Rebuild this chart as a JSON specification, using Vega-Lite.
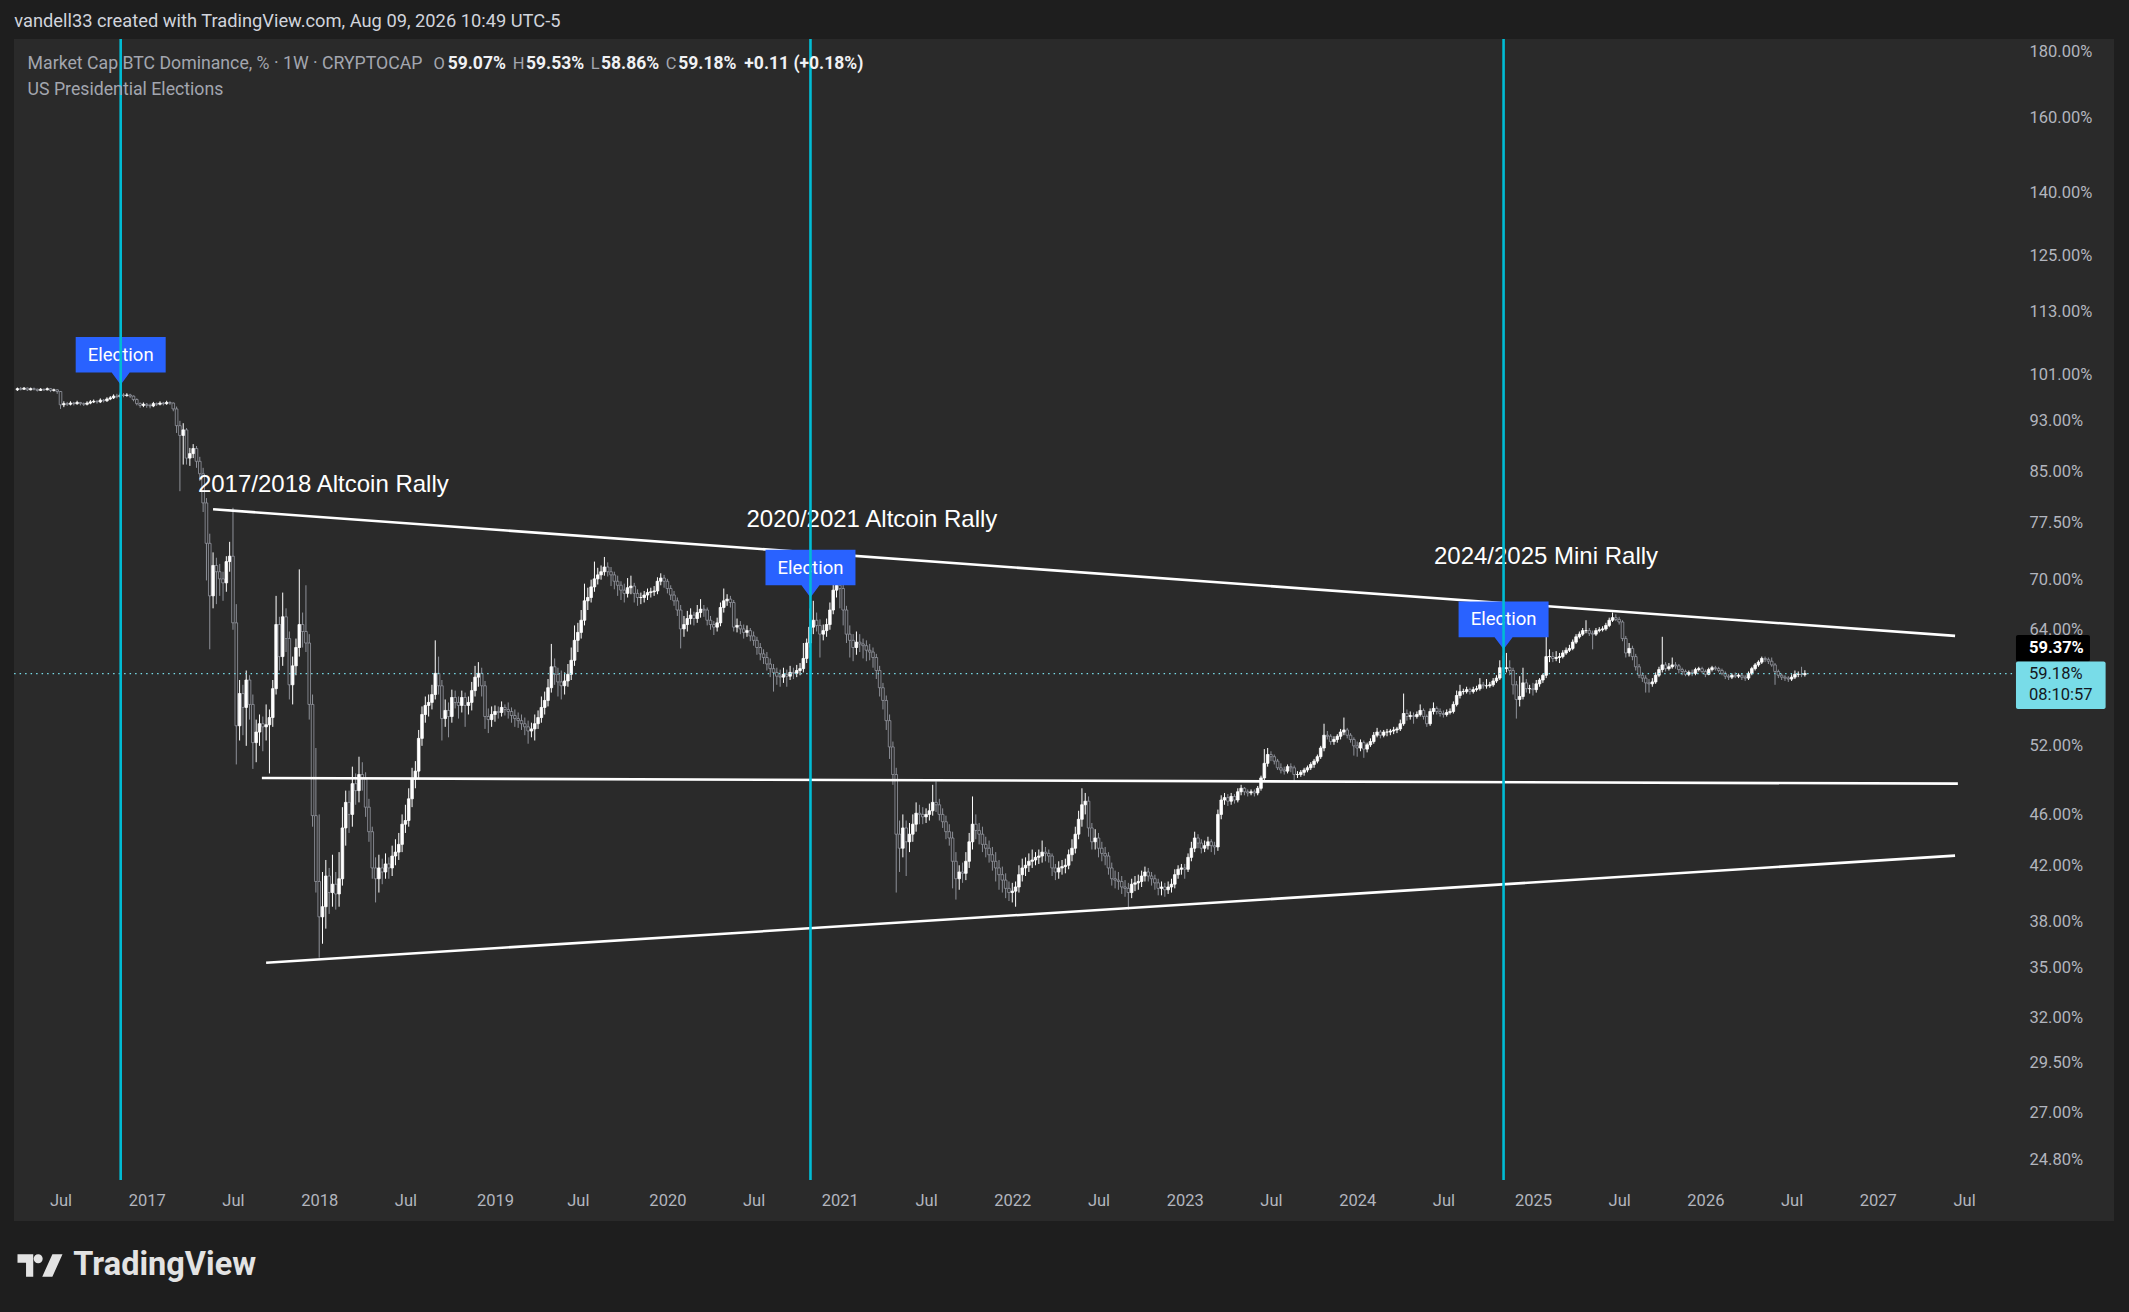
{
  "$schema": "https://vega.github.io/schema/vega-lite/v6.json",
  "width": 2100,
  "height": 1182,
  "autosize": "none",
  "padding": {"left": 14, "top": 39, "right": 15, "bottom": 91},
  "background": "#1e1e1e",
  "config": {
    "view": {"fill": "#2a2a2a", "stroke": null},
    "axis": {"grid": false, "domain": false, "ticks": false, "tickSize": 0, "labelFont": "Roboto", "labelFontSize": 16.5, "labelColor": "#b2b5be"}
  },
  "datasets": {
    "candles": [
      {"d":"2016-04-04","o":98.3,"h":98.7,"l":98.1,"c":98.5},
      {"d":"2016-04-11","o":98.5,"h":98.8,"l":98.2,"c":98.4},
      {"d":"2016-04-18","o":98.4,"h":98.8,"l":98.3,"c":98.6},
      {"d":"2016-04-25","o":98.6,"h":98.7,"l":98.1,"c":98.3},
      {"d":"2016-05-02","o":98.3,"h":98.7,"l":98.2,"c":98.5},
      {"d":"2016-05-09","o":98.5,"h":98.7,"l":98.2,"c":98.4},
      {"d":"2016-05-16","o":98.4,"h":98.5,"l":98.0,"c":98.2},
      {"d":"2016-05-23","o":98.2,"h":98.6,"l":98.1,"c":98.4},
      {"d":"2016-05-30","o":98.4,"h":98.5,"l":98.1,"c":98.3},
      {"d":"2016-06-06","o":98.3,"h":98.7,"l":98.2,"c":98.5},
      {"d":"2016-06-13","o":98.5,"h":98.6,"l":97.9,"c":98.2},
      {"d":"2016-06-20","o":98.2,"h":98.5,"l":98.0,"c":98.3},
      {"d":"2016-06-27","o":98.3,"h":98.4,"l":97.6,"c":98.0},
      {"d":"2016-07-04","o":98.0,"h":98.1,"l":95.0,"c":95.7},
      {"d":"2016-07-11","o":95.7,"h":96.3,"l":95.3,"c":95.9},
      {"d":"2016-07-18","o":95.9,"h":96.2,"l":95.5,"c":95.8},
      {"d":"2016-07-25","o":95.8,"h":96.3,"l":95.6,"c":96.0},
      {"d":"2016-08-01","o":96.0,"h":96.2,"l":95.6,"c":95.9},
      {"d":"2016-08-08","o":95.9,"h":96.4,"l":95.7,"c":96.1},
      {"d":"2016-08-15","o":96.1,"h":96.2,"l":95.6,"c":95.9},
      {"d":"2016-08-22","o":95.9,"h":96.1,"l":95.5,"c":95.8},
      {"d":"2016-08-29","o":95.8,"h":96.3,"l":95.6,"c":96.0},
      {"d":"2016-09-05","o":96.0,"h":96.5,"l":95.8,"c":96.2},
      {"d":"2016-09-12","o":96.2,"h":96.6,"l":96.0,"c":96.3},
      {"d":"2016-09-19","o":96.3,"h":96.5,"l":95.9,"c":96.2},
      {"d":"2016-09-26","o":96.2,"h":96.8,"l":96.0,"c":96.5},
      {"d":"2016-10-03","o":96.5,"h":96.7,"l":96.1,"c":96.4},
      {"d":"2016-10-10","o":96.4,"h":97.0,"l":96.2,"c":96.7},
      {"d":"2016-10-17","o":96.7,"h":97.2,"l":96.5,"c":96.9},
      {"d":"2016-10-24","o":96.9,"h":97.5,"l":96.7,"c":97.2},
      {"d":"2016-10-31","o":97.2,"h":97.6,"l":96.8,"c":97.1},
      {"d":"2016-11-07","o":97.1,"h":97.8,"l":96.9,"c":97.4},
      {"d":"2016-11-14","o":97.4,"h":97.7,"l":97.0,"c":97.3},
      {"d":"2016-11-21","o":97.3,"h":97.7,"l":97.1,"c":97.4},
      {"d":"2016-11-28","o":97.4,"h":97.6,"l":96.9,"c":97.2},
      {"d":"2016-12-05","o":97.2,"h":97.3,"l":96.3,"c":96.6},
      {"d":"2016-12-12","o":96.6,"h":96.8,"l":95.6,"c":95.9},
      {"d":"2016-12-19","o":95.9,"h":96.1,"l":95.2,"c":95.6},
      {"d":"2016-12-26","o":95.6,"h":96.1,"l":95.3,"c":95.8},
      {"d":"2017-01-02","o":95.8,"h":96.0,"l":95.2,"c":95.6},
      {"d":"2017-01-09","o":95.6,"h":95.9,"l":95.1,"c":95.5},
      {"d":"2017-01-16","o":95.5,"h":96.2,"l":95.3,"c":95.9},
      {"d":"2017-01-23","o":95.9,"h":96.1,"l":95.5,"c":95.8},
      {"d":"2017-01-30","o":95.8,"h":96.3,"l":95.6,"c":96.0},
      {"d":"2017-02-06","o":96.0,"h":96.2,"l":95.6,"c":95.9},
      {"d":"2017-02-13","o":95.9,"h":96.4,"l":95.7,"c":96.1},
      {"d":"2017-02-20","o":96.1,"h":96.3,"l":95.7,"c":96.0},
      {"d":"2017-02-27","o":96.0,"h":96.1,"l":94.6,"c":95.0},
      {"d":"2017-03-06","o":95.0,"h":95.4,"l":91.0,"c":92.2},
      {"d":"2017-03-13","o":92.2,"h":93.0,"l":82.0,"c":90.6},
      {"d":"2017-03-20","o":90.6,"h":92.6,"l":86.0,"c":91.5},
      {"d":"2017-03-27","o":91.5,"h":91.8,"l":86.0,"c":87.0},
      {"d":"2017-04-03","o":87.0,"h":88.6,"l":85.8,"c":87.7},
      {"d":"2017-04-10","o":87.7,"h":89.2,"l":87.0,"c":88.5},
      {"d":"2017-04-17","o":88.5,"h":88.9,"l":85.5,"c":86.5},
      {"d":"2017-04-24","o":86.5,"h":87.2,"l":83.5,"c":84.6},
      {"d":"2017-05-01","o":84.6,"h":85.5,"l":79.0,"c":80.3},
      {"d":"2017-05-08","o":80.3,"h":81.0,"l":69.9,"c":74.7},
      {"d":"2017-05-15","o":74.7,"h":76.0,"l":61.8,"c":68.0},
      {"d":"2017-05-22","o":68.0,"h":73.5,"l":66.5,"c":71.8},
      {"d":"2017-05-29","o":71.8,"h":72.8,"l":67.0,"c":71.0},
      {"d":"2017-06-05","o":71.0,"h":72.0,"l":68.0,"c":70.1},
      {"d":"2017-06-12","o":70.1,"h":71.0,"l":67.4,"c":69.6},
      {"d":"2017-06-19","o":69.6,"h":73.0,"l":68.5,"c":72.3},
      {"d":"2017-06-26","o":72.3,"h":74.9,"l":71.0,"c":73.0},
      {"d":"2017-07-03","o":73.0,"h":79.6,"l":64.0,"c":64.8},
      {"d":"2017-07-10","o":64.8,"h":67.0,"l":50.3,"c":53.9},
      {"d":"2017-07-17","o":53.9,"h":58.5,"l":52.5,"c":57.1},
      {"d":"2017-07-24","o":57.1,"h":58.0,"l":53.0,"c":55.7},
      {"d":"2017-07-31","o":55.7,"h":59.5,"l":52.0,"c":58.5},
      {"d":"2017-08-07","o":58.5,"h":59.0,"l":54.5,"c":56.0},
      {"d":"2017-08-14","o":56.0,"h":57.0,"l":49.9,"c":52.3},
      {"d":"2017-08-21","o":52.3,"h":54.5,"l":50.5,"c":53.3},
      {"d":"2017-08-28","o":53.3,"h":55.0,"l":52.0,"c":54.1},
      {"d":"2017-09-04","o":54.1,"h":54.8,"l":51.5,"c":53.8},
      {"d":"2017-09-11","o":53.8,"h":56.0,"l":52.5,"c":54.0},
      {"d":"2017-09-18","o":54.0,"h":55.5,"l":49.5,"c":54.7},
      {"d":"2017-09-25","o":54.7,"h":58.5,"l":53.8,"c":57.6},
      {"d":"2017-10-02","o":57.6,"h":68.0,"l":57.0,"c":64.6},
      {"d":"2017-10-09","o":64.6,"h":65.5,"l":59.5,"c":61.0},
      {"d":"2017-10-16","o":61.0,"h":68.4,"l":60.0,"c":65.5},
      {"d":"2017-10-23","o":65.5,"h":66.5,"l":61.5,"c":63.0},
      {"d":"2017-10-30","o":63.0,"h":63.8,"l":56.5,"c":58.0},
      {"d":"2017-11-06","o":58.0,"h":61.0,"l":56.0,"c":60.0},
      {"d":"2017-11-13","o":60.0,"h":63.0,"l":59.0,"c":62.0},
      {"d":"2017-11-20","o":62.0,"h":71.3,"l":61.0,"c":64.6},
      {"d":"2017-11-27","o":64.6,"h":66.0,"l":62.0,"c":63.8},
      {"d":"2017-12-04","o":63.8,"h":69.3,"l":61.5,"c":62.5},
      {"d":"2017-12-11","o":62.5,"h":63.5,"l":54.5,"c":56.0},
      {"d":"2017-12-18","o":56.0,"h":57.0,"l":45.0,"c":45.9},
      {"d":"2017-12-25","o":45.9,"h":51.8,"l":40.0,"c":40.8},
      {"d":"2018-01-01","o":40.8,"h":46.0,"l":35.6,"c":38.3},
      {"d":"2018-01-08","o":38.3,"h":41.5,"l":36.5,"c":39.0},
      {"d":"2018-01-15","o":39.0,"h":42.4,"l":37.5,"c":41.2},
      {"d":"2018-01-22","o":41.2,"h":41.8,"l":38.5,"c":40.0},
      {"d":"2018-01-29","o":40.0,"h":42.8,"l":39.0,"c":40.6},
      {"d":"2018-02-05","o":40.6,"h":41.5,"l":38.8,"c":39.9},
      {"d":"2018-02-12","o":39.9,"h":43.0,"l":39.0,"c":41.0},
      {"d":"2018-02-19","o":41.0,"h":46.6,"l":40.5,"c":44.9},
      {"d":"2018-02-26","o":44.9,"h":48.0,"l":43.5,"c":47.0},
      {"d":"2018-03-05","o":47.0,"h":48.0,"l":44.5,"c":46.0},
      {"d":"2018-03-12","o":46.0,"h":50.1,"l":45.0,"c":48.6},
      {"d":"2018-03-19","o":48.6,"h":49.5,"l":46.8,"c":48.0},
      {"d":"2018-03-26","o":48.0,"h":51.0,"l":47.0,"c":49.4},
      {"d":"2018-04-02","o":49.4,"h":50.5,"l":48.0,"c":49.0},
      {"d":"2018-04-09","o":49.0,"h":49.6,"l":45.8,"c":46.6},
      {"d":"2018-04-16","o":46.6,"h":47.3,"l":43.8,"c":44.6},
      {"d":"2018-04-23","o":44.6,"h":45.0,"l":41.0,"c":41.8},
      {"d":"2018-04-30","o":41.8,"h":42.6,"l":39.3,"c":41.0},
      {"d":"2018-05-07","o":41.0,"h":42.8,"l":40.0,"c":41.8},
      {"d":"2018-05-14","o":41.8,"h":42.5,"l":40.6,"c":41.5},
      {"d":"2018-05-21","o":41.5,"h":42.9,"l":41.0,"c":42.1},
      {"d":"2018-05-28","o":42.1,"h":42.6,"l":41.0,"c":41.8},
      {"d":"2018-06-04","o":41.8,"h":43.5,"l":41.2,"c":42.7},
      {"d":"2018-06-11","o":42.7,"h":44.0,"l":42.0,"c":43.0},
      {"d":"2018-06-18","o":43.0,"h":44.5,"l":42.4,"c":43.6},
      {"d":"2018-06-25","o":43.6,"h":46.0,"l":43.0,"c":45.2},
      {"d":"2018-07-02","o":45.2,"h":46.8,"l":44.5,"c":45.5},
      {"d":"2018-07-09","o":45.5,"h":48.2,"l":45.0,"c":47.3},
      {"d":"2018-07-16","o":47.3,"h":50.0,"l":46.6,"c":49.0},
      {"d":"2018-07-23","o":49.0,"h":50.6,"l":48.2,"c":49.7},
      {"d":"2018-07-30","o":49.7,"h":53.5,"l":49.0,"c":52.7},
      {"d":"2018-08-06","o":52.7,"h":55.8,"l":52.0,"c":55.0},
      {"d":"2018-08-13","o":55.0,"h":56.8,"l":54.2,"c":55.9},
      {"d":"2018-08-20","o":55.9,"h":57.0,"l":54.8,"c":56.2},
      {"d":"2018-08-27","o":56.2,"h":58.0,"l":55.5,"c":57.0},
      {"d":"2018-09-03","o":57.0,"h":62.8,"l":56.5,"c":59.2},
      {"d":"2018-09-10","o":59.2,"h":61.0,"l":57.0,"c":57.9},
      {"d":"2018-09-17","o":57.9,"h":58.5,"l":52.5,"c":54.6},
      {"d":"2018-09-24","o":54.6,"h":56.5,"l":53.8,"c":55.4},
      {"d":"2018-10-01","o":55.4,"h":56.2,"l":52.8,"c":54.8},
      {"d":"2018-10-08","o":54.8,"h":57.5,"l":54.2,"c":56.7},
      {"d":"2018-10-15","o":56.7,"h":57.4,"l":55.6,"c":56.2},
      {"d":"2018-10-22","o":56.2,"h":56.8,"l":54.6,"c":55.9},
      {"d":"2018-10-29","o":55.9,"h":57.4,"l":55.2,"c":56.7},
      {"d":"2018-11-05","o":56.7,"h":57.2,"l":53.8,"c":55.9},
      {"d":"2018-11-12","o":55.9,"h":56.8,"l":55.0,"c":56.2},
      {"d":"2018-11-19","o":56.2,"h":58.3,"l":55.4,"c":57.4},
      {"d":"2018-11-26","o":57.4,"h":60.0,"l":56.8,"c":58.8},
      {"d":"2018-12-03","o":58.8,"h":60.4,"l":57.8,"c":59.2},
      {"d":"2018-12-10","o":59.2,"h":59.8,"l":56.8,"c":57.9},
      {"d":"2018-12-17","o":57.9,"h":58.4,"l":53.6,"c":54.8},
      {"d":"2018-12-24","o":54.8,"h":55.6,"l":53.2,"c":54.5},
      {"d":"2018-12-31","o":54.5,"h":55.8,"l":53.8,"c":55.0},
      {"d":"2019-01-07","o":55.0,"h":55.9,"l":54.3,"c":55.3},
      {"d":"2019-01-14","o":55.3,"h":55.8,"l":54.6,"c":55.2},
      {"d":"2019-01-21","o":55.2,"h":56.3,"l":54.8,"c":55.7},
      {"d":"2019-01-28","o":55.7,"h":56.0,"l":54.9,"c":55.5},
      {"d":"2019-02-04","o":55.5,"h":56.2,"l":54.6,"c":55.3},
      {"d":"2019-02-11","o":55.3,"h":55.7,"l":54.2,"c":54.9},
      {"d":"2019-02-18","o":54.9,"h":55.5,"l":53.8,"c":54.6},
      {"d":"2019-02-25","o":54.6,"h":55.2,"l":53.7,"c":54.4},
      {"d":"2019-03-04","o":54.4,"h":55.0,"l":53.5,"c":54.1},
      {"d":"2019-03-11","o":54.1,"h":54.7,"l":53.0,"c":53.8},
      {"d":"2019-03-18","o":53.8,"h":54.4,"l":52.2,"c":53.4},
      {"d":"2019-03-25","o":53.4,"h":54.2,"l":52.8,"c":53.6},
      {"d":"2019-04-01","o":53.6,"h":55.0,"l":52.5,"c":54.1},
      {"d":"2019-04-08","o":54.1,"h":55.4,"l":53.6,"c":54.7},
      {"d":"2019-04-15","o":54.7,"h":56.8,"l":54.2,"c":55.7},
      {"d":"2019-04-22","o":55.7,"h":57.3,"l":55.0,"c":56.4},
      {"d":"2019-04-29","o":56.4,"h":58.6,"l":55.8,"c":57.7},
      {"d":"2019-05-06","o":57.7,"h":62.4,"l":57.2,"c":59.9},
      {"d":"2019-05-13","o":59.9,"h":60.8,"l":58.0,"c":59.1},
      {"d":"2019-05-20","o":59.1,"h":59.8,"l":56.8,"c":58.3},
      {"d":"2019-05-27","o":58.3,"h":59.5,"l":56.5,"c":57.9},
      {"d":"2019-06-03","o":57.9,"h":59.3,"l":57.0,"c":58.4},
      {"d":"2019-06-10","o":58.4,"h":60.2,"l":57.8,"c":59.1},
      {"d":"2019-06-17","o":59.1,"h":62.0,"l":58.5,"c":60.6},
      {"d":"2019-06-24","o":60.6,"h":64.5,"l":60.0,"c":62.8},
      {"d":"2019-07-01","o":62.8,"h":64.8,"l":61.5,"c":63.7},
      {"d":"2019-07-08","o":63.7,"h":66.3,"l":63.0,"c":65.1},
      {"d":"2019-07-15","o":65.1,"h":69.5,"l":64.5,"c":67.4},
      {"d":"2019-07-22","o":67.4,"h":69.0,"l":66.3,"c":67.8},
      {"d":"2019-07-29","o":67.8,"h":70.0,"l":67.2,"c":69.1},
      {"d":"2019-08-05","o":69.1,"h":72.3,"l":68.5,"c":70.1},
      {"d":"2019-08-12","o":70.1,"h":71.5,"l":69.4,"c":70.6},
      {"d":"2019-08-19","o":70.6,"h":71.8,"l":70.0,"c":71.0},
      {"d":"2019-08-26","o":71.0,"h":72.9,"l":70.5,"c":71.6},
      {"d":"2019-09-02","o":71.6,"h":72.2,"l":70.4,"c":71.0},
      {"d":"2019-09-09","o":71.0,"h":71.6,"l":69.2,"c":70.6},
      {"d":"2019-09-16","o":70.6,"h":71.0,"l":68.8,"c":69.8},
      {"d":"2019-09-23","o":69.8,"h":70.5,"l":68.0,"c":69.3},
      {"d":"2019-09-30","o":69.3,"h":69.8,"l":67.5,"c":68.7},
      {"d":"2019-10-07","o":68.7,"h":69.5,"l":67.2,"c":68.3},
      {"d":"2019-10-14","o":68.3,"h":70.2,"l":67.8,"c":69.0},
      {"d":"2019-10-21","o":69.0,"h":70.5,"l":68.2,"c":69.2},
      {"d":"2019-10-28","o":69.2,"h":69.6,"l":67.2,"c":68.3},
      {"d":"2019-11-04","o":68.3,"h":68.8,"l":66.8,"c":67.8},
      {"d":"2019-11-11","o":67.8,"h":68.4,"l":67.0,"c":67.8},
      {"d":"2019-11-18","o":67.8,"h":68.6,"l":67.2,"c":68.1},
      {"d":"2019-11-25","o":68.1,"h":68.9,"l":67.5,"c":68.4},
      {"d":"2019-12-02","o":68.4,"h":69.0,"l":67.8,"c":68.5},
      {"d":"2019-12-09","o":68.5,"h":69.2,"l":68.0,"c":68.6},
      {"d":"2019-12-16","o":68.6,"h":70.3,"l":68.2,"c":69.8},
      {"d":"2019-12-23","o":69.8,"h":70.8,"l":69.3,"c":70.2},
      {"d":"2019-12-30","o":70.2,"h":70.6,"l":69.0,"c":69.8},
      {"d":"2020-01-06","o":69.8,"h":70.1,"l":68.3,"c":68.9},
      {"d":"2020-01-13","o":68.9,"h":69.3,"l":67.5,"c":68.1},
      {"d":"2020-01-20","o":68.1,"h":68.6,"l":66.8,"c":67.4},
      {"d":"2020-01-27","o":67.4,"h":67.8,"l":65.6,"c":66.3},
      {"d":"2020-02-03","o":66.3,"h":66.9,"l":61.9,"c":64.1},
      {"d":"2020-02-10","o":64.1,"h":65.6,"l":63.2,"c":64.6},
      {"d":"2020-02-17","o":64.6,"h":66.2,"l":63.8,"c":65.3},
      {"d":"2020-02-24","o":65.3,"h":66.5,"l":64.6,"c":65.7},
      {"d":"2020-03-02","o":65.7,"h":66.1,"l":64.5,"c":65.3},
      {"d":"2020-03-09","o":65.3,"h":66.9,"l":64.8,"c":66.0},
      {"d":"2020-03-16","o":66.0,"h":67.6,"l":65.4,"c":66.4},
      {"d":"2020-03-23","o":66.4,"h":66.9,"l":65.5,"c":66.3},
      {"d":"2020-03-30","o":66.3,"h":66.6,"l":64.5,"c":65.1},
      {"d":"2020-04-06","o":65.1,"h":65.6,"l":64.0,"c":64.6},
      {"d":"2020-04-13","o":64.6,"h":65.0,"l":63.4,"c":64.3},
      {"d":"2020-04-20","o":64.3,"h":65.4,"l":63.8,"c":64.8},
      {"d":"2020-04-27","o":64.8,"h":67.2,"l":64.4,"c":66.6},
      {"d":"2020-05-04","o":66.6,"h":68.9,"l":66.0,"c":67.4},
      {"d":"2020-05-11","o":67.4,"h":68.2,"l":66.8,"c":67.6},
      {"d":"2020-05-18","o":67.6,"h":68.0,"l":66.6,"c":67.2},
      {"d":"2020-05-25","o":67.2,"h":67.5,"l":63.8,"c":64.3},
      {"d":"2020-06-01","o":64.3,"h":65.3,"l":63.7,"c":64.5},
      {"d":"2020-06-08","o":64.5,"h":65.0,"l":63.5,"c":64.1},
      {"d":"2020-06-15","o":64.1,"h":64.6,"l":63.0,"c":63.7},
      {"d":"2020-06-22","o":63.7,"h":64.5,"l":63.2,"c":63.9},
      {"d":"2020-06-29","o":63.9,"h":64.2,"l":62.7,"c":63.3},
      {"d":"2020-07-06","o":63.3,"h":63.8,"l":62.2,"c":62.8},
      {"d":"2020-07-13","o":62.8,"h":63.2,"l":61.2,"c":62.0},
      {"d":"2020-07-20","o":62.0,"h":62.5,"l":60.6,"c":61.3},
      {"d":"2020-07-27","o":61.3,"h":61.8,"l":60.2,"c":60.9},
      {"d":"2020-08-03","o":60.9,"h":61.5,"l":59.5,"c":60.2},
      {"d":"2020-08-10","o":60.2,"h":60.8,"l":58.8,"c":59.7},
      {"d":"2020-08-17","o":59.7,"h":60.2,"l":57.3,"c":59.3},
      {"d":"2020-08-24","o":59.3,"h":59.8,"l":58.0,"c":58.9},
      {"d":"2020-08-31","o":58.9,"h":59.6,"l":57.8,"c":58.8},
      {"d":"2020-09-07","o":58.8,"h":59.8,"l":58.2,"c":59.1},
      {"d":"2020-09-14","o":59.1,"h":59.6,"l":57.8,"c":58.9},
      {"d":"2020-09-21","o":58.9,"h":60.0,"l":58.5,"c":59.3},
      {"d":"2020-09-28","o":59.3,"h":59.8,"l":58.6,"c":59.2},
      {"d":"2020-10-05","o":59.2,"h":60.1,"l":58.8,"c":59.5},
      {"d":"2020-10-12","o":59.5,"h":60.3,"l":59.0,"c":59.7},
      {"d":"2020-10-19","o":59.7,"h":62.5,"l":59.3,"c":60.8},
      {"d":"2020-10-26","o":60.8,"h":63.0,"l":60.3,"c":62.5},
      {"d":"2020-11-02","o":62.5,"h":66.5,"l":62.0,"c":64.3},
      {"d":"2020-11-09","o":64.3,"h":67.4,"l":63.5,"c":65.1},
      {"d":"2020-11-16","o":65.1,"h":66.0,"l":63.8,"c":64.5},
      {"d":"2020-11-23","o":64.5,"h":65.2,"l":60.9,"c":63.5},
      {"d":"2020-11-30","o":63.5,"h":64.6,"l":62.8,"c":63.9},
      {"d":"2020-12-07","o":63.9,"h":65.3,"l":63.2,"c":64.6},
      {"d":"2020-12-14","o":64.6,"h":67.2,"l":64.0,"c":66.3},
      {"d":"2020-12-21","o":66.3,"h":73.3,"l":65.8,"c":68.7},
      {"d":"2020-12-28","o":68.7,"h":71.6,"l":67.8,"c":69.3},
      {"d":"2021-01-04","o":69.3,"h":70.2,"l":66.5,"c":68.9},
      {"d":"2021-01-11","o":68.9,"h":69.5,"l":64.5,"c":66.3},
      {"d":"2021-01-18","o":66.3,"h":66.8,"l":62.5,"c":63.5},
      {"d":"2021-01-25","o":63.5,"h":64.5,"l":60.9,"c":62.8},
      {"d":"2021-02-01","o":62.8,"h":63.5,"l":60.5,"c":62.0},
      {"d":"2021-02-08","o":62.0,"h":63.8,"l":61.2,"c":62.6},
      {"d":"2021-02-15","o":62.6,"h":63.5,"l":61.5,"c":62.4},
      {"d":"2021-02-22","o":62.4,"h":63.0,"l":60.8,"c":62.2},
      {"d":"2021-03-01","o":62.2,"h":62.8,"l":60.5,"c":61.7},
      {"d":"2021-03-08","o":61.7,"h":62.4,"l":60.6,"c":61.5},
      {"d":"2021-03-15","o":61.5,"h":62.0,"l":59.8,"c":60.9},
      {"d":"2021-03-22","o":60.9,"h":61.3,"l":58.6,"c":59.5},
      {"d":"2021-03-29","o":59.5,"h":60.0,"l":56.8,"c":57.7},
      {"d":"2021-04-05","o":57.7,"h":58.2,"l":55.5,"c":56.4},
      {"d":"2021-04-12","o":56.4,"h":56.9,"l":53.5,"c":54.4},
      {"d":"2021-04-19","o":54.4,"h":55.0,"l":50.8,"c":51.9},
      {"d":"2021-04-26","o":51.9,"h":52.4,"l":48.5,"c":49.4},
      {"d":"2021-05-03","o":49.4,"h":50.0,"l":40.0,"c":44.4},
      {"d":"2021-05-10","o":44.4,"h":45.5,"l":41.5,"c":43.3},
      {"d":"2021-05-17","o":43.3,"h":46.0,"l":42.6,"c":44.9},
      {"d":"2021-05-24","o":44.9,"h":45.5,"l":41.2,"c":43.8},
      {"d":"2021-05-31","o":43.8,"h":45.3,"l":43.0,"c":44.4},
      {"d":"2021-06-07","o":44.4,"h":46.0,"l":43.8,"c":45.2},
      {"d":"2021-06-14","o":45.2,"h":47.0,"l":44.6,"c":46.1},
      {"d":"2021-06-21","o":46.1,"h":46.8,"l":45.2,"c":46.0},
      {"d":"2021-06-28","o":46.0,"h":46.6,"l":45.2,"c":45.8},
      {"d":"2021-07-05","o":45.8,"h":46.5,"l":45.3,"c":46.0},
      {"d":"2021-07-12","o":46.0,"h":46.9,"l":45.5,"c":46.3},
      {"d":"2021-07-19","o":46.3,"h":48.5,"l":45.9,"c":47.0},
      {"d":"2021-07-26","o":47.0,"h":48.8,"l":46.2,"c":46.8},
      {"d":"2021-08-02","o":46.8,"h":47.3,"l":45.5,"c":46.0},
      {"d":"2021-08-09","o":46.0,"h":46.5,"l":44.9,"c":45.4},
      {"d":"2021-08-16","o":45.4,"h":45.9,"l":44.0,"c":44.6},
      {"d":"2021-08-23","o":44.6,"h":45.2,"l":43.5,"c":44.1},
      {"d":"2021-08-30","o":44.1,"h":44.6,"l":40.3,"c":42.3},
      {"d":"2021-09-06","o":42.3,"h":43.0,"l":39.5,"c":41.0},
      {"d":"2021-09-13","o":41.0,"h":42.0,"l":40.2,"c":41.5},
      {"d":"2021-09-20","o":41.5,"h":42.2,"l":40.7,"c":41.4},
      {"d":"2021-09-27","o":41.4,"h":43.0,"l":40.9,"c":42.3},
      {"d":"2021-10-04","o":42.3,"h":44.5,"l":41.8,"c":43.8},
      {"d":"2021-10-11","o":43.8,"h":47.5,"l":43.2,"c":45.2},
      {"d":"2021-10-18","o":45.2,"h":46.0,"l":44.0,"c":44.7},
      {"d":"2021-10-25","o":44.7,"h":45.3,"l":43.6,"c":44.4},
      {"d":"2021-11-01","o":44.4,"h":45.0,"l":43.0,"c":43.6},
      {"d":"2021-11-08","o":43.6,"h":44.2,"l":42.6,"c":43.3},
      {"d":"2021-11-15","o":43.3,"h":43.9,"l":42.2,"c":42.8},
      {"d":"2021-11-22","o":42.8,"h":43.4,"l":41.6,"c":42.3},
      {"d":"2021-11-29","o":42.3,"h":43.0,"l":40.8,"c":41.8},
      {"d":"2021-12-06","o":41.8,"h":42.4,"l":40.2,"c":41.3},
      {"d":"2021-12-13","o":41.3,"h":41.9,"l":40.0,"c":40.9},
      {"d":"2021-12-20","o":40.9,"h":41.4,"l":39.6,"c":40.3},
      {"d":"2021-12-27","o":40.3,"h":40.8,"l":39.4,"c":40.0},
      {"d":"2022-01-03","o":40.0,"h":40.7,"l":39.3,"c":40.1},
      {"d":"2022-01-10","o":40.1,"h":40.8,"l":39.0,"c":40.4},
      {"d":"2022-01-17","o":40.4,"h":42.0,"l":40.0,"c":41.3},
      {"d":"2022-01-24","o":41.3,"h":42.5,"l":40.8,"c":41.8},
      {"d":"2022-01-31","o":41.8,"h":42.6,"l":41.2,"c":42.0},
      {"d":"2022-02-07","o":42.0,"h":42.9,"l":41.5,"c":42.3},
      {"d":"2022-02-14","o":42.3,"h":43.2,"l":41.8,"c":42.4},
      {"d":"2022-02-21","o":42.4,"h":43.0,"l":42.0,"c":42.6},
      {"d":"2022-02-28","o":42.6,"h":43.2,"l":42.1,"c":42.7},
      {"d":"2022-03-07","o":42.7,"h":43.9,"l":42.2,"c":43.0},
      {"d":"2022-03-14","o":43.0,"h":43.4,"l":42.3,"c":42.9},
      {"d":"2022-03-21","o":42.9,"h":43.2,"l":42.2,"c":42.7},
      {"d":"2022-03-28","o":42.7,"h":42.9,"l":41.2,"c":41.8},
      {"d":"2022-04-04","o":41.8,"h":42.1,"l":40.9,"c":41.5},
      {"d":"2022-04-11","o":41.5,"h":42.3,"l":41.0,"c":41.8},
      {"d":"2022-04-18","o":41.8,"h":42.4,"l":41.3,"c":41.9},
      {"d":"2022-04-25","o":41.9,"h":42.5,"l":41.4,"c":42.0},
      {"d":"2022-05-02","o":42.0,"h":43.2,"l":41.7,"c":42.8},
      {"d":"2022-05-09","o":42.8,"h":44.0,"l":42.3,"c":43.3},
      {"d":"2022-05-16","o":43.3,"h":45.0,"l":42.9,"c":44.4},
      {"d":"2022-05-23","o":44.4,"h":46.3,"l":44.0,"c":45.6},
      {"d":"2022-05-30","o":45.6,"h":48.2,"l":45.0,"c":46.8},
      {"d":"2022-06-06","o":46.8,"h":47.8,"l":46.0,"c":47.1},
      {"d":"2022-06-13","o":47.1,"h":47.5,"l":44.2,"c":44.9},
      {"d":"2022-06-20","o":44.9,"h":45.3,"l":43.2,"c":43.8},
      {"d":"2022-06-27","o":43.8,"h":44.8,"l":43.2,"c":44.1},
      {"d":"2022-07-04","o":44.1,"h":44.5,"l":42.6,"c":43.3},
      {"d":"2022-07-11","o":43.3,"h":43.8,"l":42.3,"c":42.9},
      {"d":"2022-07-18","o":42.9,"h":43.4,"l":42.0,"c":42.7},
      {"d":"2022-07-25","o":42.7,"h":43.0,"l":41.3,"c":41.8},
      {"d":"2022-08-01","o":41.8,"h":42.2,"l":40.5,"c":41.0},
      {"d":"2022-08-08","o":41.0,"h":41.6,"l":40.3,"c":40.9},
      {"d":"2022-08-15","o":40.9,"h":41.5,"l":40.2,"c":40.8},
      {"d":"2022-08-22","o":40.8,"h":41.2,"l":39.9,"c":40.4},
      {"d":"2022-08-29","o":40.4,"h":40.9,"l":39.7,"c":40.3},
      {"d":"2022-09-05","o":40.3,"h":40.7,"l":38.8,"c":40.0},
      {"d":"2022-09-12","o":40.0,"h":41.0,"l":39.6,"c":40.6},
      {"d":"2022-09-19","o":40.6,"h":41.2,"l":40.1,"c":40.7},
      {"d":"2022-09-26","o":40.7,"h":41.3,"l":40.2,"c":40.8},
      {"d":"2022-10-03","o":40.8,"h":41.6,"l":40.4,"c":41.2},
      {"d":"2022-10-10","o":41.2,"h":41.9,"l":40.8,"c":41.5},
      {"d":"2022-10-17","o":41.5,"h":41.8,"l":40.8,"c":41.2},
      {"d":"2022-10-24","o":41.2,"h":41.5,"l":40.5,"c":41.0},
      {"d":"2022-10-31","o":41.0,"h":41.3,"l":40.2,"c":40.7},
      {"d":"2022-11-07","o":40.7,"h":41.0,"l":39.8,"c":40.3},
      {"d":"2022-11-14","o":40.3,"h":40.8,"l":39.8,"c":40.4},
      {"d":"2022-11-21","o":40.4,"h":40.7,"l":39.7,"c":40.2},
      {"d":"2022-11-28","o":40.2,"h":40.8,"l":39.9,"c":40.4},
      {"d":"2022-12-05","o":40.4,"h":41.0,"l":40.0,"c":40.6},
      {"d":"2022-12-12","o":40.6,"h":41.7,"l":40.3,"c":41.3},
      {"d":"2022-12-19","o":41.3,"h":42.0,"l":41.0,"c":41.7},
      {"d":"2022-12-26","o":41.7,"h":42.1,"l":41.3,"c":41.8},
      {"d":"2023-01-02","o":41.8,"h":42.1,"l":41.0,"c":41.7},
      {"d":"2023-01-09","o":41.7,"h":42.9,"l":41.5,"c":42.6},
      {"d":"2023-01-16","o":42.6,"h":43.8,"l":42.3,"c":43.3},
      {"d":"2023-01-23","o":43.3,"h":44.6,"l":43.0,"c":44.1},
      {"d":"2023-01-30","o":44.1,"h":44.4,"l":43.3,"c":43.7},
      {"d":"2023-02-06","o":43.7,"h":44.0,"l":42.9,"c":43.3},
      {"d":"2023-02-13","o":43.3,"h":43.9,"l":43.0,"c":43.5},
      {"d":"2023-02-20","o":43.5,"h":44.2,"l":43.2,"c":43.8},
      {"d":"2023-02-27","o":43.8,"h":44.0,"l":43.0,"c":43.5},
      {"d":"2023-03-06","o":43.5,"h":43.8,"l":42.8,"c":43.4},
      {"d":"2023-03-13","o":43.4,"h":46.4,"l":43.1,"c":46.0},
      {"d":"2023-03-20","o":46.0,"h":47.6,"l":45.6,"c":47.2},
      {"d":"2023-03-27","o":47.2,"h":47.8,"l":46.8,"c":47.4},
      {"d":"2023-04-03","o":47.4,"h":47.7,"l":46.7,"c":47.1},
      {"d":"2023-04-10","o":47.1,"h":47.8,"l":46.8,"c":47.5},
      {"d":"2023-04-17","o":47.5,"h":47.7,"l":46.9,"c":47.2},
      {"d":"2023-04-24","o":47.2,"h":48.2,"l":47.0,"c":47.9},
      {"d":"2023-05-01","o":47.9,"h":48.5,"l":47.6,"c":48.2},
      {"d":"2023-05-08","o":48.2,"h":48.3,"l":47.6,"c":47.9},
      {"d":"2023-05-15","o":47.9,"h":48.1,"l":47.5,"c":47.8},
      {"d":"2023-05-22","o":47.8,"h":48.1,"l":47.6,"c":47.9},
      {"d":"2023-05-29","o":47.9,"h":48.1,"l":47.5,"c":47.8},
      {"d":"2023-06-05","o":47.8,"h":48.4,"l":47.6,"c":48.2},
      {"d":"2023-06-12","o":48.2,"h":49.3,"l":48.0,"c":49.1},
      {"d":"2023-06-19","o":49.1,"h":51.7,"l":48.9,"c":50.4},
      {"d":"2023-06-26","o":50.4,"h":51.8,"l":50.1,"c":51.2},
      {"d":"2023-07-03","o":51.2,"h":51.5,"l":50.6,"c":51.0},
      {"d":"2023-07-10","o":51.0,"h":51.2,"l":50.3,"c":50.6},
      {"d":"2023-07-17","o":50.6,"h":50.8,"l":49.8,"c":50.0},
      {"d":"2023-07-24","o":50.0,"h":50.4,"l":49.5,"c":49.8},
      {"d":"2023-07-31","o":49.8,"h":50.1,"l":49.4,"c":49.7},
      {"d":"2023-08-07","o":49.7,"h":50.3,"l":49.5,"c":50.1},
      {"d":"2023-08-14","o":50.1,"h":50.4,"l":49.6,"c":50.0},
      {"d":"2023-08-21","o":50.0,"h":50.2,"l":48.8,"c":49.4},
      {"d":"2023-08-28","o":49.4,"h":49.7,"l":49.1,"c":49.4},
      {"d":"2023-09-04","o":49.4,"h":49.8,"l":49.2,"c":49.6},
      {"d":"2023-09-11","o":49.6,"h":50.0,"l":49.3,"c":49.8},
      {"d":"2023-09-18","o":49.8,"h":50.2,"l":49.6,"c":50.0},
      {"d":"2023-09-25","o":50.0,"h":50.5,"l":49.8,"c":50.3},
      {"d":"2023-10-02","o":50.3,"h":50.8,"l":50.0,"c":50.6},
      {"d":"2023-10-09","o":50.6,"h":51.2,"l":50.4,"c":51.0},
      {"d":"2023-10-16","o":51.0,"h":52.0,"l":50.8,"c":51.8},
      {"d":"2023-10-23","o":51.8,"h":54.1,"l":51.5,"c":53.0},
      {"d":"2023-10-30","o":53.0,"h":53.4,"l":52.6,"c":52.9},
      {"d":"2023-11-06","o":52.9,"h":53.1,"l":52.1,"c":52.4},
      {"d":"2023-11-13","o":52.4,"h":52.9,"l":52.1,"c":52.6},
      {"d":"2023-11-20","o":52.6,"h":53.1,"l":52.3,"c":52.9},
      {"d":"2023-11-27","o":52.9,"h":53.6,"l":52.6,"c":53.3},
      {"d":"2023-12-04","o":53.3,"h":54.7,"l":53.0,"c":53.5},
      {"d":"2023-12-11","o":53.5,"h":53.7,"l":52.7,"c":53.0},
      {"d":"2023-12-18","o":53.0,"h":53.2,"l":52.3,"c":52.6},
      {"d":"2023-12-25","o":52.6,"h":52.8,"l":51.1,"c":52.0},
      {"d":"2024-01-01","o":52.0,"h":52.4,"l":51.0,"c":51.8},
      {"d":"2024-01-08","o":51.8,"h":52.6,"l":51.5,"c":52.3},
      {"d":"2024-01-15","o":52.3,"h":52.5,"l":50.9,"c":51.7},
      {"d":"2024-01-22","o":51.7,"h":52.3,"l":51.4,"c":52.1},
      {"d":"2024-01-29","o":52.1,"h":52.7,"l":51.9,"c":52.4},
      {"d":"2024-02-05","o":52.4,"h":53.3,"l":52.2,"c":53.0},
      {"d":"2024-02-12","o":53.0,"h":53.7,"l":52.8,"c":53.3},
      {"d":"2024-02-19","o":53.3,"h":53.5,"l":52.7,"c":53.0},
      {"d":"2024-02-26","o":53.0,"h":53.5,"l":52.8,"c":53.3},
      {"d":"2024-03-04","o":53.3,"h":53.6,"l":52.9,"c":53.3},
      {"d":"2024-03-11","o":53.3,"h":53.6,"l":53.0,"c":53.4},
      {"d":"2024-03-18","o":53.4,"h":53.8,"l":53.1,"c":53.5},
      {"d":"2024-03-25","o":53.5,"h":53.8,"l":53.2,"c":53.6},
      {"d":"2024-04-01","o":53.6,"h":54.5,"l":53.4,"c":54.1},
      {"d":"2024-04-08","o":54.1,"h":57.1,"l":53.9,"c":55.1},
      {"d":"2024-04-15","o":55.1,"h":55.5,"l":54.4,"c":54.8},
      {"d":"2024-04-22","o":54.8,"h":55.3,"l":54.5,"c":54.9},
      {"d":"2024-04-29","o":54.9,"h":55.2,"l":54.1,"c":54.8},
      {"d":"2024-05-06","o":54.8,"h":55.3,"l":54.6,"c":55.0},
      {"d":"2024-05-13","o":55.0,"h":56.0,"l":54.8,"c":55.4},
      {"d":"2024-05-20","o":55.4,"h":55.6,"l":54.5,"c":54.8},
      {"d":"2024-05-27","o":54.8,"h":55.0,"l":53.8,"c":54.1},
      {"d":"2024-06-03","o":54.1,"h":55.6,"l":53.9,"c":55.3},
      {"d":"2024-06-10","o":55.3,"h":56.2,"l":55.0,"c":55.6},
      {"d":"2024-06-17","o":55.6,"h":55.8,"l":55.0,"c":55.3},
      {"d":"2024-06-24","o":55.3,"h":55.6,"l":54.8,"c":55.1},
      {"d":"2024-07-01","o":55.1,"h":55.4,"l":54.7,"c":55.0},
      {"d":"2024-07-08","o":55.0,"h":55.5,"l":54.8,"c":55.2},
      {"d":"2024-07-15","o":55.2,"h":55.6,"l":55.0,"c":55.3},
      {"d":"2024-07-22","o":55.3,"h":56.3,"l":55.1,"c":56.0},
      {"d":"2024-07-29","o":56.0,"h":57.4,"l":55.8,"c":56.9},
      {"d":"2024-08-05","o":56.9,"h":58.0,"l":56.6,"c":57.3},
      {"d":"2024-08-12","o":57.3,"h":57.6,"l":57.0,"c":57.3},
      {"d":"2024-08-19","o":57.3,"h":57.8,"l":57.1,"c":57.5},
      {"d":"2024-08-26","o":57.5,"h":57.7,"l":57.0,"c":57.3},
      {"d":"2024-09-02","o":57.3,"h":57.8,"l":57.1,"c":57.5},
      {"d":"2024-09-09","o":57.5,"h":57.9,"l":57.3,"c":57.6},
      {"d":"2024-09-16","o":57.6,"h":58.7,"l":57.4,"c":58.0},
      {"d":"2024-09-23","o":58.0,"h":58.3,"l":57.6,"c":57.9},
      {"d":"2024-09-30","o":57.9,"h":58.6,"l":57.6,"c":57.9},
      {"d":"2024-10-07","o":57.9,"h":58.3,"l":57.7,"c":58.0},
      {"d":"2024-10-14","o":58.0,"h":58.7,"l":57.8,"c":58.4},
      {"d":"2024-10-21","o":58.4,"h":59.0,"l":58.2,"c":58.7},
      {"d":"2024-10-28","o":58.7,"h":60.6,"l":58.5,"c":59.8},
      {"d":"2024-11-04","o":59.8,"h":61.1,"l":59.4,"c":59.7},
      {"d":"2024-11-11","o":59.7,"h":61.4,"l":59.3,"c":59.8},
      {"d":"2024-11-18","o":59.8,"h":60.6,"l":59.0,"c":59.5},
      {"d":"2024-11-25","o":59.5,"h":59.8,"l":57.0,"c":58.0},
      {"d":"2024-12-02","o":58.0,"h":58.4,"l":54.6,"c":56.5},
      {"d":"2024-12-09","o":56.5,"h":58.9,"l":55.8,"c":56.8},
      {"d":"2024-12-16","o":56.8,"h":59.8,"l":56.5,"c":58.2},
      {"d":"2024-12-23","o":58.2,"h":58.6,"l":57.2,"c":57.6},
      {"d":"2024-12-30","o":57.6,"h":58.0,"l":57.1,"c":57.6},
      {"d":"2025-01-06","o":57.6,"h":58.2,"l":56.9,"c":57.5},
      {"d":"2025-01-13","o":57.5,"h":58.5,"l":57.2,"c":58.1},
      {"d":"2025-01-20","o":58.1,"h":58.7,"l":57.8,"c":58.5},
      {"d":"2025-01-27","o":58.5,"h":59.2,"l":58.2,"c":59.0},
      {"d":"2025-02-03","o":59.0,"h":64.3,"l":58.7,"c":61.0},
      {"d":"2025-02-10","o":61.0,"h":61.8,"l":60.4,"c":61.0},
      {"d":"2025-02-17","o":61.0,"h":61.5,"l":60.4,"c":60.8},
      {"d":"2025-02-24","o":60.8,"h":61.6,"l":60.5,"c":60.9},
      {"d":"2025-03-03","o":60.9,"h":61.4,"l":60.3,"c":61.0},
      {"d":"2025-03-10","o":61.0,"h":61.7,"l":60.8,"c":61.4},
      {"d":"2025-03-17","o":61.4,"h":62.0,"l":61.2,"c":61.7},
      {"d":"2025-03-24","o":61.7,"h":62.3,"l":61.5,"c":61.9},
      {"d":"2025-03-31","o":61.9,"h":62.9,"l":61.7,"c":62.6},
      {"d":"2025-04-07","o":62.6,"h":63.5,"l":62.4,"c":63.2},
      {"d":"2025-04-14","o":63.2,"h":63.8,"l":63.0,"c":63.5},
      {"d":"2025-04-21","o":63.5,"h":64.2,"l":63.3,"c":63.9},
      {"d":"2025-04-28","o":63.9,"h":65.1,"l":63.6,"c":63.9},
      {"d":"2025-05-05","o":63.9,"h":64.2,"l":63.3,"c":63.6},
      {"d":"2025-05-12","o":63.6,"h":63.9,"l":61.8,"c":63.5},
      {"d":"2025-05-19","o":63.5,"h":64.2,"l":63.3,"c":63.9},
      {"d":"2025-05-26","o":63.9,"h":64.3,"l":63.7,"c":64.0},
      {"d":"2025-06-02","o":64.0,"h":64.4,"l":63.8,"c":64.1},
      {"d":"2025-06-09","o":64.1,"h":64.8,"l":63.9,"c":64.5},
      {"d":"2025-06-16","o":64.5,"h":65.4,"l":64.3,"c":65.1},
      {"d":"2025-06-23","o":65.1,"h":66.0,"l":64.9,"c":65.4},
      {"d":"2025-06-30","o":65.4,"h":65.8,"l":65.0,"c":65.2},
      {"d":"2025-07-07","o":65.2,"h":65.5,"l":64.6,"c":64.9},
      {"d":"2025-07-14","o":64.9,"h":65.1,"l":62.7,"c":63.0},
      {"d":"2025-07-21","o":63.0,"h":63.3,"l":60.9,"c":61.4},
      {"d":"2025-07-28","o":61.4,"h":62.5,"l":61.0,"c":61.9},
      {"d":"2025-08-04","o":61.9,"h":62.2,"l":60.6,"c":61.0},
      {"d":"2025-08-11","o":61.0,"h":61.3,"l":59.5,"c":59.9},
      {"d":"2025-08-18","o":59.9,"h":60.2,"l":58.7,"c":59.0},
      {"d":"2025-08-25","o":59.0,"h":59.3,"l":58.3,"c":58.7},
      {"d":"2025-09-01","o":58.7,"h":59.0,"l":57.2,"c":58.2},
      {"d":"2025-09-08","o":58.2,"h":58.6,"l":57.2,"c":58.1},
      {"d":"2025-09-15","o":58.1,"h":58.7,"l":57.8,"c":58.3},
      {"d":"2025-09-22","o":58.3,"h":59.3,"l":58.1,"c":59.0},
      {"d":"2025-09-29","o":59.0,"h":59.9,"l":58.8,"c":59.6},
      {"d":"2025-10-06","o":59.6,"h":63.2,"l":59.3,"c":60.1},
      {"d":"2025-10-13","o":60.1,"h":60.4,"l":59.4,"c":59.7},
      {"d":"2025-10-20","o":59.7,"h":60.3,"l":59.5,"c":59.9},
      {"d":"2025-10-27","o":59.9,"h":60.9,"l":59.7,"c":60.1},
      {"d":"2025-11-03","o":60.1,"h":60.4,"l":59.7,"c":60.0},
      {"d":"2025-11-10","o":60.0,"h":60.2,"l":59.2,"c":59.6},
      {"d":"2025-11-17","o":59.6,"h":59.8,"l":59.0,"c":59.4},
      {"d":"2025-11-24","o":59.4,"h":59.6,"l":58.9,"c":59.1},
      {"d":"2025-12-01","o":59.1,"h":59.5,"l":58.9,"c":59.3},
      {"d":"2025-12-08","o":59.3,"h":59.6,"l":58.9,"c":59.2},
      {"d":"2025-12-15","o":59.2,"h":59.8,"l":59.0,"c":59.6},
      {"d":"2025-12-22","o":59.6,"h":59.9,"l":59.4,"c":59.7},
      {"d":"2025-12-29","o":59.7,"h":59.9,"l":59.2,"c":59.4},
      {"d":"2026-01-05","o":59.4,"h":59.6,"l":58.8,"c":59.1},
      {"d":"2026-01-12","o":59.1,"h":59.8,"l":59.0,"c":59.6},
      {"d":"2026-01-19","o":59.6,"h":60.0,"l":59.4,"c":59.8},
      {"d":"2026-01-26","o":59.8,"h":60.0,"l":59.5,"c":59.7},
      {"d":"2026-02-02","o":59.7,"h":59.9,"l":59.3,"c":59.5},
      {"d":"2026-02-09","o":59.5,"h":59.7,"l":59.0,"c":59.2},
      {"d":"2026-02-16","o":59.2,"h":59.4,"l":58.6,"c":58.9},
      {"d":"2026-02-23","o":58.9,"h":59.1,"l":58.5,"c":58.8},
      {"d":"2026-03-02","o":58.8,"h":59.2,"l":58.6,"c":59.0},
      {"d":"2026-03-09","o":59.0,"h":59.3,"l":58.7,"c":58.9},
      {"d":"2026-03-16","o":58.9,"h":59.2,"l":58.7,"c":59.0},
      {"d":"2026-03-23","o":59.0,"h":59.2,"l":58.5,"c":58.8},
      {"d":"2026-03-30","o":58.8,"h":59.0,"l":58.4,"c":58.7},
      {"d":"2026-04-06","o":58.7,"h":59.4,"l":58.5,"c":59.2},
      {"d":"2026-04-13","o":59.2,"h":59.9,"l":59.0,"c":59.7},
      {"d":"2026-04-20","o":59.7,"h":60.3,"l":59.5,"c":60.1},
      {"d":"2026-04-27","o":60.1,"h":60.6,"l":59.9,"c":60.4},
      {"d":"2026-05-04","o":60.4,"h":61.0,"l":60.2,"c":60.8},
      {"d":"2026-05-11","o":60.8,"h":61.0,"l":60.4,"c":60.7},
      {"d":"2026-05-18","o":60.7,"h":60.9,"l":60.2,"c":60.5},
      {"d":"2026-05-25","o":60.5,"h":60.9,"l":59.9,"c":60.1},
      {"d":"2026-06-01","o":60.1,"h":60.3,"l":58.0,"c":59.4},
      {"d":"2026-06-08","o":59.4,"h":59.6,"l":58.7,"c":59.0},
      {"d":"2026-06-15","o":59.0,"h":59.2,"l":58.5,"c":58.8},
      {"d":"2026-06-22","o":58.8,"h":59.0,"l":58.4,"c":58.7},
      {"d":"2026-06-29","o":58.7,"h":58.9,"l":58.3,"c":58.6},
      {"d":"2026-07-06","o":58.6,"h":59.1,"l":58.4,"c":58.8},
      {"d":"2026-07-13","o":58.8,"h":59.5,"l":58.6,"c":59.1},
      {"d":"2026-07-20","o":59.1,"h":59.4,"l":58.8,"c":59.1},
      {"d":"2026-07-27","o":59.1,"h":59.9,"l":58.8,"c":59.07},
      {"d":"2026-08-03","o":59.07,"h":59.53,"l":58.86,"c":59.18}
    ],
    "trend": [
      {"line":"top","d":"2017-05-22","v":79.4},
      {"line":"top","d":"2027-06-16","v":63.3},
      {"line":"mid","d":"2017-09-02","v":49.09},
      {"line":"mid","d":"2027-06-22","v":48.6},
      {"line":"low","d":"2017-09-11","v":35.28},
      {"line":"low","d":"2027-06-16","v":42.73}
    ],
    "elections": [
      {"d":"2016-11-08","v":99.2},
      {"d":"2020-11-03","v":67.8},
      {"d":"2024-11-05","v":61.8}
    ],
    "notes": [
      {"kind":"rally","d":"2017-04-20","v":81.9,"t":"2017/2018 Altcoin Rally"},
      {"kind":"rally","d":"2020-06-21","v":76.97,"t":"2020/2021 Altcoin Rally"},
      {"kind":"rally","d":"2024-06-11","v":72.0,"t":"2024/2025 Mini Rally"},
      {"kind":"hdr","d":"2016-03-28T08:00:00Z","v":189.9,"t":"vandell33 created with TradingView.com, Aug 09, 2026 10:49 UTC-5"},
      {"kind":"leg","d":"2016-04-25T12:00:00Z","v":176.1,"t":"Market Cap BTC Dominance, % · 1W · CRYPTOCAP"},
      {"kind":"leg","d":"2016-04-25T12:00:00Z","v":168.0,"t":"US Presidential Elections"},
      {"kind":"ohlc","d":"2018-09-02T11:00:00Z","v":176.1,"t":"O"},
      {"kind":"ohlc","d":"2019-02-16T19:00:00Z","v":176.1,"t":"H"},
      {"kind":"ohlc","d":"2019-07-31T10:00:00Z","v":176.1,"t":"L"},
      {"kind":"ohlc","d":"2020-01-05T18:00:00Z","v":176.1,"t":"C"},
      {"kind":"val","d":"2018-09-27T03:00:00Z","v":176.1,"t":"59.07%"},
      {"kind":"val","d":"2019-03-11T10:00:00Z","v":176.1,"t":"59.53%"},
      {"kind":"val","d":"2019-08-16T17:00:00Z","v":176.1,"t":"58.86%"},
      {"kind":"val","d":"2020-01-26T21:00:00Z","v":176.1,"t":"59.18%"},
      {"kind":"val","d":"2020-06-14T05:00:00Z","v":176.1,"t":"+0.11 (+0.18%)"},
      {"kind":"tagw","d":"2027-11-19","v":61.97,"t":"59.37%"},
      {"kind":"tagd","d":"2027-11-19","v":59.18,"t":"59.18%"},
      {"kind":"tagd","d":"2027-11-19","v":56.97,"t":"08:10:57"},
      {"kind":"logo","d":"2016-07-31","v":20.53,"t":"TradingView"},
      {"kind":"icon","d":"2016-05-21T16:00:00Z","v":20.53,"t":""}
    ]
  },
  "layer": [
    {
      "data": {"name": "candles"},
      "mark": {"type": "rule", "strokeWidth": 1},
      "encoding": {
        "x": {
          "field": "d", "type": "temporal", "title": null,
          "scale": {"type": "utc", "padding": 0, "domain": [
            {"year": 2016, "month": "mar", "date": 27, "hours": 19, "utc": true},
            {"year": 2028, "month": "may", "date": 16, "hours": 12, "utc": true}
          ]},
          "axis": {
            "orient": "bottom", "offset": -21, "labelPadding": 0, "labelBaseline": "middle",
            "labelOverlap": false, "labelFlush": false,
            "values": [
              {"year": 2016, "month": "jul", "date": 4, "utc": true},
              {"year": 2017, "month": "jan", "date": 2, "utc": true},
              {"year": 2017, "month": "jul", "date": 3, "utc": true},
              {"year": 2018, "month": "jan", "date": 1, "utc": true},
              {"year": 2018, "month": "jul", "date": 2, "utc": true},
              {"year": 2019, "month": "jan", "date": 7, "utc": true},
              {"year": 2019, "month": "jul", "date": 1, "utc": true},
              {"year": 2020, "month": "jan", "date": 6, "utc": true},
              {"year": 2020, "month": "jul", "date": 6, "utc": true},
              {"year": 2021, "month": "jan", "date": 4, "utc": true},
              {"year": 2021, "month": "jul", "date": 5, "utc": true},
              {"year": 2022, "month": "jan", "date": 3, "utc": true},
              {"year": 2022, "month": "jul", "date": 4, "utc": true},
              {"year": 2023, "month": "jan", "date": 2, "utc": true},
              {"year": 2023, "month": "jul", "date": 3, "utc": true},
              {"year": 2024, "month": "jan", "date": 1, "utc": true},
              {"year": 2024, "month": "jul", "date": 1, "utc": true},
              {"year": 2025, "month": "jan", "date": 6, "utc": true},
              {"year": 2025, "month": "jul", "date": 7, "utc": true},
              {"year": 2026, "month": "jan", "date": 5, "utc": true},
              {"year": 2026, "month": "jul", "date": 6, "utc": true},
              {"year": 2027, "month": "jan", "date": 4, "utc": true},
              {"year": 2027, "month": "jul", "date": 5, "utc": true}
            ],
            "labelExpr": "utcFormat(datum.value, '%m') == '01' ? utcFormat(datum.value, '%Y') : 'Jul'"
          }
        },
        "y": {
          "field": "l", "type": "quantitative", "title": null,
          "scale": {"type": "log", "padding": 0, "domain": [22.23, 184.1], "nice": false, "zero": false},
          "axis": {
            "orient": "right", "offset": -85, "labelPadding": 0, "labelAlign": "left", "labelBaseline": "middle",
            "labelOverlap": false, "labelFlush": false,
            "values": [24.8, 27, 29.5, 32, 35, 38, 42, 46, 52, 64, 70, 77.5, 85, 93, 101, 113, 125, 140, 160, 180],
            "labelExpr": "format(datum.value, '.2f') + '%'"
          }
        },
        "y2": {"field": "h"},
        "color": {"condition": {"test": "datum.c >= datum.o", "value": "#ffffff"}, "value": "#8e9199"}
      }
    },
    {
      "data": {"name": "candles"},
      "mark": {"type": "bar", "size": 2.6, "strokeWidth": 0.8},
      "encoding": {
        "x": {"field": "d", "type": "temporal", "title": null},
        "y": {"field": "o", "type": "quantitative", "title": null},
        "y2": {"field": "c"},
        "fill": {"condition": {"test": "datum.c >= datum.o", "value": "#ffffff"}, "value": "#2a2a2a"},
        "stroke": {"condition": {"test": "datum.c >= datum.o", "value": "#ffffff"}, "value": "#9598a1"}
      }
    },
    {
      "data": {"name": "trend"},
      "mark": {"type": "line", "color": "#ffffff", "strokeWidth": 2.6},
      "encoding": {
        "x": {"field": "d", "type": "temporal", "title": null},
        "y": {"field": "v", "type": "quantitative", "title": null},
        "detail": {"field": "line", "type": "nominal"}
      }
    },
    {
      "data": {"values": [{}]},
      "mark": {"type": "rule", "color": "#78dce8", "strokeWidth": 1.3, "strokeDash": [1.5, 4]},
      "encoding": {
        "x": {"datum": {"year": 2016, "month": "mar", "date": 28, "utc": true}, "type": "temporal"},
        "x2": {"datum": {"year": 2027, "month": "oct", "date": 22, "utc": true}},
        "y": {"datum": 59.18, "type": "quantitative"}
      }
    },
    {
      "data": {"name": "elections"},
      "mark": {"type": "point", "shape": "M0,0L-0.2,-0.27L-1,-0.27L-1,-1.06L1,-1.06L1,-0.27L0.2,-0.27Z", "size": 8100, "filled": true, "color": "#2962ff", "opacity": 1, "strokeWidth": 0},
      "encoding": {
        "x": {"field": "d", "type": "temporal", "title": null},
        "y": {"field": "v", "type": "quantitative", "title": null}
      }
    },
    {
      "data": {"name": "elections"},
      "mark": {"type": "text", "text": "Election", "dy": -30, "color": "#ffffff", "font": "Roboto", "fontSize": 18.5, "baseline": "middle", "align": "center"},
      "encoding": {
        "x": {"field": "d", "type": "temporal", "title": null},
        "y": {"field": "v", "type": "quantitative", "title": null}
      }
    },
    {
      "data": {"name": "notes"},
      "transform": [{"filter": "datum.kind == 'rally'"}],
      "mark": {"type": "text", "align": "left", "baseline": "alphabetic", "color": "#ffffff", "font": "Liberation Sans", "fontSize": 24},
      "encoding": {
        "x": {"field": "d", "type": "temporal", "title": null},
        "y": {"field": "v", "type": "quantitative", "title": null},
        "text": {"field": "t"}
      }
    },
    {
      "data": {"name": "elections"},
      "mark": {"type": "rule", "color": "#00bcd4", "strokeWidth": 2.6},
      "encoding": {
        "x": {"field": "d", "type": "temporal", "title": null},
        "y": {"datum": 184.1},
        "y2": {"datum": 23.92}
      }
    },
    {
      "data": {"name": "notes"},
      "transform": [{"filter": "datum.kind == 'hdr'"}],
      "mark": {"type": "text", "align": "left", "baseline": "middle", "color": "#d1d4dc", "font": "Roboto", "fontSize": 18.3},
      "encoding": {
        "x": {"field": "d", "type": "temporal", "title": null},
        "y": {"field": "v", "type": "quantitative", "title": null},
        "text": {"field": "t"}
      }
    },
    {
      "data": {"name": "notes"},
      "transform": [{"filter": "datum.kind == 'leg'"}],
      "mark": {"type": "text", "align": "left", "baseline": "middle", "color": "#a3a6af", "font": "Roboto", "fontSize": 17.7},
      "encoding": {
        "x": {"field": "d", "type": "temporal", "title": null},
        "y": {"field": "v", "type": "quantitative", "title": null},
        "text": {"field": "t"}
      }
    },
    {
      "data": {"name": "notes"},
      "transform": [{"filter": "datum.kind == 'ohlc'"}],
      "mark": {"type": "text", "align": "left", "baseline": "middle", "color": "#a3a6af", "font": "Roboto", "fontSize": 16.5, "dx": -1.5},
      "encoding": {
        "x": {"field": "d", "type": "temporal", "title": null},
        "y": {"field": "v", "type": "quantitative", "title": null},
        "text": {"field": "t"}
      }
    },
    {
      "data": {"name": "notes"},
      "transform": [{"filter": "datum.kind == 'val'"}],
      "mark": {"type": "text", "align": "left", "baseline": "middle", "color": "#f0f1f4", "font": "Roboto", "fontSize": 17.5, "fontWeight": "bold", "dx": 1},
      "encoding": {
        "x": {"field": "d", "type": "temporal", "title": null},
        "y": {"field": "v", "type": "quantitative", "title": null},
        "text": {"field": "t"}
      }
    },
    {
      "data": {"values": [{}]},
      "mark": {"type": "rect", "color": "#000000", "cornerRadius": 2},
      "encoding": {
        "x": {"datum": {"year": 2027, "month": "oct", "date": 22, "hours": 14, "utc": true}, "type": "temporal"},
        "x2": {"datum": {"year": 2028, "month": "mar", "date": 26, "hours": 19, "utc": true}},
        "y": {"datum": 63.41, "type": "quantitative"},
        "y2": {"datum": 60.48}
      }
    },
    {
      "data": {"values": [{}]},
      "mark": {"type": "rect", "color": "#78dce8", "cornerRadius": 2},
      "encoding": {
        "x": {"datum": {"year": 2027, "month": "oct", "date": 22, "hours": 14, "utc": true}, "type": "temporal"},
        "x2": {"datum": {"year": 2028, "month": "apr", "date": 28, "hours": 19, "utc": true}},
        "y": {"datum": 60.48, "type": "quantitative"},
        "y2": {"datum": 55.55}
      }
    },
    {
      "data": {"name": "notes"},
      "transform": [{"filter": "datum.kind == 'tagw'"}],
      "mark": {"type": "text", "align": "left", "baseline": "middle", "color": "#ffffff", "font": "Roboto", "fontSize": 16.5, "fontWeight": "bold"},
      "encoding": {
        "x": {"field": "d", "type": "temporal", "title": null},
        "y": {"field": "v", "type": "quantitative", "title": null},
        "text": {"field": "t"}
      }
    },
    {
      "data": {"name": "notes"},
      "transform": [{"filter": "datum.kind == 'tagd'"}],
      "mark": {"type": "text", "align": "left", "baseline": "middle", "color": "#131722", "font": "Roboto", "fontSize": 16.5},
      "encoding": {
        "x": {"field": "d", "type": "temporal", "title": null},
        "y": {"field": "v", "type": "quantitative", "title": null},
        "text": {"field": "t"}
      }
    },
    {
      "data": {"name": "notes"},
      "transform": [{"filter": "datum.kind == 'logo'"}],
      "mark": {"type": "text", "align": "left", "baseline": "middle", "color": "#e3e3e3", "font": "Roboto", "fontSize": 32.5, "fontWeight": "bold"},
      "encoding": {
        "x": {"field": "d", "type": "temporal", "title": null},
        "y": {"field": "v", "type": "quantitative", "title": null},
        "text": {"field": "t"}
      }
    },
    {
      "data": {"name": "notes"},
      "transform": [{"filter": "datum.kind == 'icon'"}],
      "mark": {"type": "point", "shape": "M-1,-0.5H-0.3V0.5H-0.62V-0.12H-1Z M-0.28,-0.3A0.2,0.2 0 1 0 0.12,-0.3A0.2,0.2 0 1 0 -0.28,-0.3Z M0.1,0.5L0.55,-0.5H1L0.55,0.5Z", "size": 2025, "filled": true, "color": "#e3e3e3", "opacity": 1, "strokeWidth": 0},
      "encoding": {
        "x": {"field": "d", "type": "temporal", "title": null},
        "y": {"field": "v", "type": "quantitative", "title": null}
      }
    }
  ]
}
